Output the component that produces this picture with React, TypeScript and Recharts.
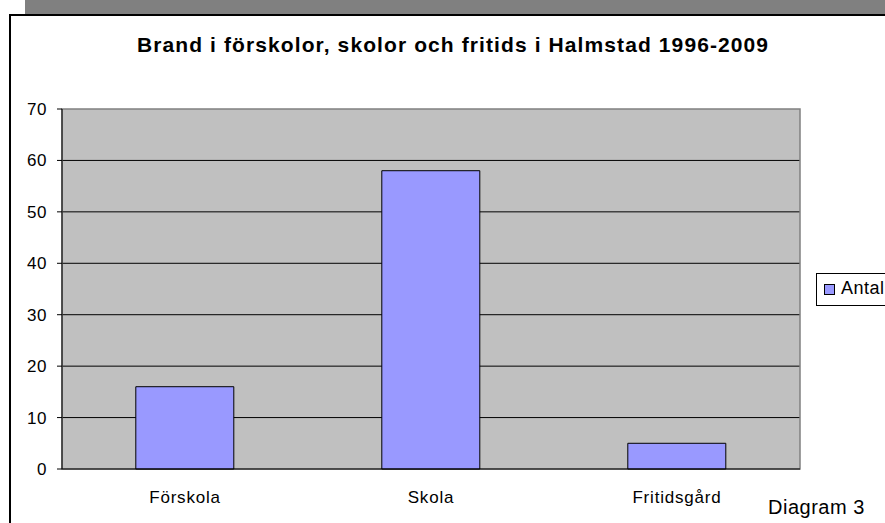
import { BarChart, Bar, XAxis, YAxis, CartesianGrid, ReferenceArea } from 'recharts'

const categories = ['Förskola', 'Skola', 'Fritidsgård']
const antal = [16, 58, 5]
const yTicks = [0, 10, 20, 30, 40, 50, 60, 70]

const data = categories.map((c, i) => ({ typ: c, Antal: antal[i] }))

const font = '"Liberation Sans", Arial, sans-serif'

const App = () => {
  return (
    <div style={{ position: 'absolute', left: 0, top: 0, width: 885, height: 523, overflow: 'hidden', background: '#fff', fontFamily: font }}>
      <div style={{ position: 'absolute', left: 25, top: 0, width: 860, height: 14, background: '#808080' }} />
      <div style={{ position: 'absolute', left: 9, top: 14, width: 900, height: 520, borderTop: '2px solid #000', borderLeft: '2px solid #000' }} />
      <div style={{ position: 'absolute', left: 137, top: 33, whiteSpace: 'nowrap', fontSize: 21, letterSpacing: 1.1, fontWeight: 'bold' }}>
        Brand i förskolor, skolor och fritids i Halmstad 1996-2009
      </div>
      <div style={{ position: 'absolute', left: 0, top: 0 }}>
        <BarChart width={885} height={523} data={data} margin={{ top: 109, right: 85, bottom: 24, left: 12 }} barCategoryGap="30%">
          <CartesianGrid fill="#C0C0C0" vertical={false} stroke="#000" horizontalValues={[10, 20, 30, 40, 50, 60]} />
          <ReferenceArea y1={0} y2={70} fill="none" stroke="#808080" strokeWidth={1.5} />
          <XAxis dataKey="typ" height={30} stroke="#000" tickLine={false} tick={{ fill: '#000', fontSize: 17, letterSpacing: 0.8, fontFamily: font, dy: 14 }} />
          <YAxis domain={[0, 70]} ticks={yTicks} width={50} stroke="#000" tickSize={5} tick={{ fill: '#000', fontSize: 17, letterSpacing: 0.6, fontFamily: font, dx: -8 }} />
          <Bar dataKey="Antal" fill="#9999FF" stroke="#000" strokeWidth={1} isAnimationActive={false} />
        </BarChart>
      </div>
      <div style={{ position: 'absolute', left: 816, top: 273, width: 80, height: 31, border: '1px solid #000', background: '#fff' }}>
        <div style={{ position: 'absolute', left: 7, top: 10, width: 9, height: 9, background: '#9999FF', border: '1px solid #000' }} />
        <div style={{ position: 'absolute', left: 24, top: 4, fontSize: 18, letterSpacing: 0.5 }}>Antal</div>
      </div>
      <div style={{ position: 'absolute', left: 768, top: 496, fontSize: 20, letterSpacing: 0.5 }}>Diagram 3</div>
    </div>
  )
}

export default App
